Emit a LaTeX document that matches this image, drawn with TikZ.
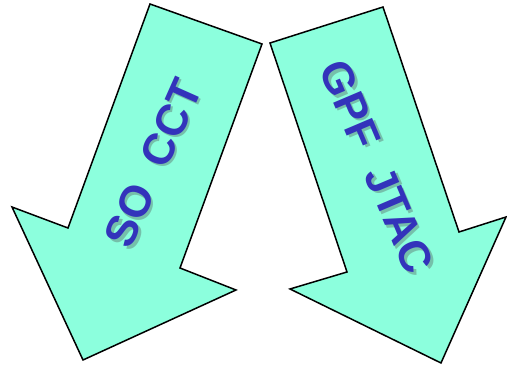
\documentclass[tikz,border=0pt]{standalone}
\usepackage{fontspec}
\setmainfont{Liberation Sans}
\definecolor{arrowfill}{RGB}{140,255,221}
\definecolor{labelblue}{RGB}{51,51,187}
\begin{document}
\begin{tikzpicture}[x=1pt,y=1pt,
  bigarrow/.style={draw=black,line width=1.5pt,fill=arrowfill,line join=miter},
  arrowlabel/.style={text=labelblue,font=\fontsize{44}{44}\selectfont\bfseries,inner sep=0pt},
  labelshadow/.style={arrowlabel,text=black!70,opacity=0.35}]
\useasboundingbox (0,0) rectangle (507,366);
% left arrow
\draw[bigarrow] (150,362) -- (262,322) -- (180,98) -- (236,76) -- (83,6) -- (12,159) -- (68,138) -- cycle;
% right arrow
\draw[bigarrow] (270,323) -- (383,359) -- (459,134) -- (506,149) -- (441,3) -- (290,77) -- (347,94) -- cycle;
% labels with shadow
\node[labelshadow,rotate=66] (soshadow) at (155.5,200.5) {SO\ \ CCT};
\node[arrowlabel,rotate=66] (so) at (153,203) {SO\ \ CCT};
\node[labelshadow,rotate=-67] (gpfshadow) at (379.5,196.5) {GPF\ \ JTAC};
\node[arrowlabel,rotate=-67] (gpf) at (377,199) {GPF\ \ JTAC};
\end{tikzpicture}
\end{document}
